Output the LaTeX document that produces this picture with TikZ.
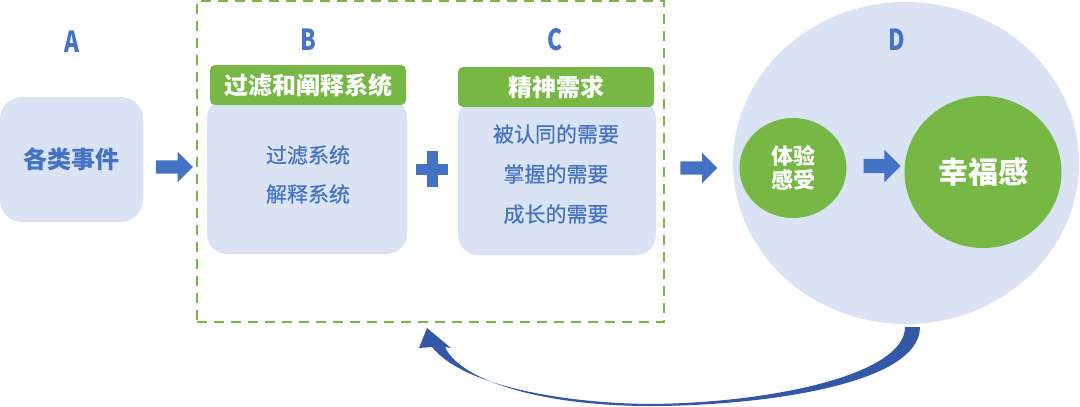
\documentclass[tikz,border=0pt]{standalone}
\usepackage{fontspec}
\setmainfont{Noto Sans CJK SC}
\newfontfamily\cjkmed{Noto Sans CJK SC}[FakeBold=0.5]
\usetikzlibrary{shapes.arrows,shapes.geometric,calc}
\definecolor{tblue}{HTML}{4472C4}
\definecolor{lblue}{HTML}{DAE3F3}
\definecolor{tgreen}{HTML}{76B843}
\definecolor{dblue}{HTML}{3458A8}
\tikzset{
  lettr/.style={text=tblue,font=\bfseries\fontsize{29}{30}\selectfont,inner sep=0},
  boxbody/.style={fill=lblue,rounded corners=20pt,inner sep=0},
  hdr/.style={fill=tgreen,rounded corners=5pt,text=white,font=\bfseries\fontsize{24}{26}\selectfont,inner sep=0},
  bodytxt/.style={text=tblue,font=\cjkmed\fontsize{21}{23}\selectfont,inner sep=0},
  blockarrow/.style={single arrow,fill=tblue,inner xsep=0pt,inner ysep=6.5pt,minimum height=37pt,single arrow head extend=8.5pt,single arrow tip angle=90},
  gcirc/.style={ellipse,fill=tgreen,text=white,inner sep=0},
}
\begin{document}
\begin{tikzpicture}[x=1pt,y=-1pt]
\useasboundingbox (0,0) rectangle (1080,407);
% frame
\node[draw=tgreen,line width=2.6pt,dash pattern=on 10pt off 7pt,minimum width=467pt,minimum height=321pt,inner sep=0] (frame) at (430.5,161.5) {};
% letters
\node[lettr] (la) at (72,42) {\scalebox{0.78}[1]{A}};
\node[lettr] (lb) at (308,40) {\scalebox{0.78}[1]{B}};
\node[lettr] (lc) at (555,40) {\scalebox{0.78}[1]{C}};
% A box
\node[boxbody,rounded corners=22pt,minimum width=143pt,minimum height=125pt,text=tblue,font=\bfseries\fontsize{24}{26}\selectfont] (boxa) at (71.5,159.5) {各类事件};
% B box
\node[boxbody,minimum width=200pt,minimum height=156pt] (boxb) at (307,176) {};
\node[hdr,minimum width=196pt,minimum height=40pt] (hb) at (308,85) {过滤和阐释系统};
\node[bodytxt] (b1) at (308,155) {过滤系统};
\node[bodytxt] (b2) at (308,194) {解释系统};
% C box
\node[boxbody,minimum width=198pt,minimum height=156pt] (boxc) at (557,177) {};
\node[hdr,minimum width=196pt,minimum height=40pt] (hc) at (556,87) {精神需求};
\node[bodytxt] (c1) at (556,134) {被认同的需要};
\node[bodytxt] (c2) at (556,174) {掌握的需要};
\node[bodytxt] (c3) at (556,214) {成长的需要};
% arrows
\node[blockarrow] (ar1) at (171,167) {};
\node[blockarrow] (ar2) at (695.5,168) {};
% plus
\coordinate (plus) at (432,169);
\fill[tblue] ($(plus)+(-16,-5.5)$) rectangle ($(plus)+(16,5.5)$);
\fill[tblue] ($(plus)+(-5.5,-18)$) rectangle ($(plus)+(5.5,18)$);
% D
\node[ellipse,fill=lblue,minimum width=346pt,minimum height=322pt,inner sep=0] (circd) at (906,163) {};
\node[lettr] (ld) at (897,40) {\scalebox{0.78}[1]{D}};
\node[gcirc,minimum width=107pt,minimum height=100pt,font=\bfseries\fontsize{22}{26}\selectfont,align=center] (exp) at (793,168) {体验\\[-2pt]感受};
\node[gcirc,minimum width=157pt,minimum height=152pt,font=\bfseries\fontsize{30}{32}\selectfont] (happy) at (983,172) {幸福感};
\node[blockarrow,minimum height=37pt,inner ysep=7pt,single arrow head extend=9pt] (ar3) at (878.5,166) {};
% curved feedback arrow
\coordinate (s1) at (905,327);
\coordinate (s2) at (920,327);
\coordinate (tip) at (427,328);
\fill[dblue] (s2) .. controls (920,385) and (760,406) .. (650,406)
   .. controls (540,406) and (460,380) .. (445,347)
   -- (451,348) -- (tip) -- (419,348) -- (432,347)
   .. controls (462,385) and (560,403) .. (650,404)
   .. controls (770,403) and (905,375) .. (s1) -- cycle;
\end{tikzpicture}
\end{document}
